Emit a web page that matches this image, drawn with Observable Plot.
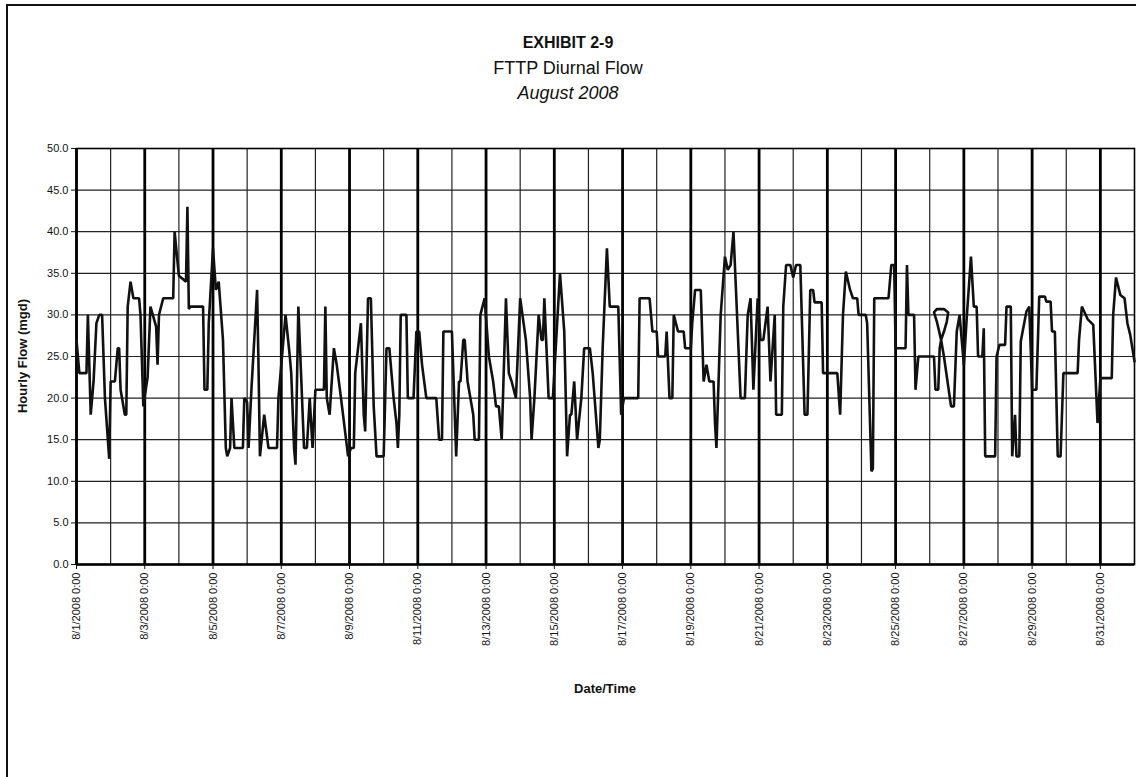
<!DOCTYPE html>
<html>
<head>
<meta charset="utf-8">
<script src="https://cdn.jsdelivr.net/npm/d3@7"></script>
<script src="https://cdn.jsdelivr.net/npm/@observablehq/plot@0.6"></script>
<style>
  html, body { margin: 0; padding: 0; background: #fff; overflow: hidden; }
  body { width: 1136px; height: 777px; position: relative; font-family: "Liberation Sans", Arial, sans-serif; color: #111; }
  #border { position: absolute; left: 6px; top: 4px; width: 1200px; height: 900px; border-left: 2px solid #111; border-top: 2px solid #111; }
  .t { position: absolute; left: 0; width: 1136px; text-align: center; line-height: 1; white-space: nowrap; }
  #t1 { top: 35px; font-size: 16px; font-weight: bold; }
  #t2 { top: 59px; font-size: 18px; }
  #t3 { top: 84px; font-size: 18px; font-style: italic; }
  #chart { position: absolute; left: 0; top: 0; }
  #ylab { position: absolute; left: 22px; top: 356px; transform: translate(-50%, -50%) rotate(-90deg); font-size: 13px; font-weight: bold; white-space: nowrap; }
  #xlab { position: absolute; left: 605px; top: 688px; transform: translate(-50%, -50%); font-size: 13px; font-weight: bold; white-space: nowrap; }
</style>
</head>
<body>
<div id="border"></div>
<div id="chart"></div>
<div class="t" id="t1">EXHIBIT 2-9</div>
<div class="t" id="t2">FTTP Diurnal Flow</div>
<div class="t" id="t3">August 2008</div>
<div id="ylab">Hourly Flow (mgd)</div>
<div id="xlab">Date/Time</div>
<script>
// Hours after 8/1/2008 0:00 and hourly flow (mgd)
const hours = [
  0,2,7,8,10,12,14,16,18,20,23,24,27,29,30,31,34,35,36,38,40,44,45,47,50,52,56,57,58,61,68,69,72,77,78,79,80,89,90,92,93,96,98,100,103,105,106,108,109,111,117,118,120,121,123,127,128,129,132,135,141,142,147,150,151,153,154,156,160,162,164,166,168,174,175,176,178,181,183,186,191,193,195,196,200,202,203,205,207,209,211,216,218,220,223,225,226,227,228,232,233,237,239,
  241,243,246,253,255,257,258,264,267,269,270,272,273,275,279,280,283,284,287,290,293,295,297,299,302,304,306,309,312,316,319,320,322,325,327,328,329,332,335,336,340,343,345,347,348,350,352,355,357,361,363,367,368,370,373,375,381,383,385,395,396,403,405,408,409,414,415,417,419,420,423,427,428,432,433,435,439,441,443,445,448,449,450,453,456,458,460,462,464,467,470,472,474,476,479,481,483,486,488,491,492,495,
  496,497,499,502,504,506,509,510,512,514,516,518,519,524,525,535,537,539,541,544,546,549,
  550,555,556,559,560,561,571,573,575,576,583,584,585,589,590,592,600,603,604,606,607,608,605,603,605,610,613,612,610,608,610,615,617,619,621,624,626,629,631,633,634,637,638,639,646,647,649,653,654,657,658,660,661,663,664,668,670,672,675,677,681,682,685,686,688,690,692,694,704,705,707,711,715,718,720,728,729,731,734,737,739,741,744
];
const flow = [
  27,23,23,30,18,22,29,30,30,20,12.7,22,22,26,26,21,18,18,31,34,32,32,30,19,22.5,31,28.6,24,30,32,32,40,34.7,34,43,30.7,31,31,21,21,29,38,33,34,27,14,13,14,20,14,14,20,19.5,14,21,33,23.8,13,18,14,14,20,30,25,23,14,12,31,14,14,20,14,21,21,31,20,18,26,24,20,13,14,14,23,29,18,16,32,32,19,13,13,26,26,20,17,14,18,30,30,20,20,28,
  28,24,20,20,15,15,28,28,13,22,22,27,27,22,18,15,15,30,32,25,22,19,19,15,32,23,22,20,32,27,20,15,20,30,27,27,32,20,20,23,35,28,13,18,18,22,15,20,26,26,23,14,15,26,38,31,31,18,20,20,32,32,28,28,25,25,28,20,20,30,28,28,26,26,29,33,33,22,24,22,22,17,14,30,37,35.4,36,40,32,20,20,30,32,21,32,27,27,31,22,30,18,18,
  18,31,36,36,34.5,36,36,30,18,18,33,33,31.5,31.5,23,23,18,30,35.2,33,32,32,
  30,30,29,11.2,11.5,32,32,36,36,26,26,36,30,30,21,25,25,25,21,21,26,27,29.2,30.3,30.7,30.7,30.3,29.2,28,27,25,19,19,28,30,24,29.6,37,31,31,25,25,28.4,13,13,25,26.4,26.4,31,31,13,18,13,13,26.8,30.4,31,21,21,32.2,32.2,31.6,31.6,28,28,13,13,23,23,27,31,29.5,28.8,17,22.4,22.4,30,34.5,32.4,32,29,27.6,24.4
];
const yTicks = [0, 5, 10, 15, 20, 25, 30, 35, 40, 45, 50];
const tickDays = [1, 3, 5, 7, 9, 11, 13, 15, 17, 19, 21, 23, 25, 27, 29, 31];

const start = new Date(Date.UTC(2008, 7, 1));
const end = new Date(Date.UTC(2008, 8, 1));
const data = hours.map((h, i) => ({ t: new Date(start.getTime() + h * 3600e3), v: flow[i] }));
const tickDates = tickDays.map(d => new Date(Date.UTC(2008, 7, d)));
const dayLines = d3.utcDay.range(start, end);

const chart = Plot.plot({
  width: 1136,
  height: 777,
  marginLeft: 76,
  marginRight: 2,
  marginTop: 148,
  marginBottom: 213,
  style: { fontFamily: "'Liberation Sans', Arial, sans-serif", fontSize: "11px", color: "#111", background: "transparent" },
  x: { type: "utc", domain: [start, end] },
  y: { domain: [0, 50] },
  marks: [
    Plot.ruleY(yTicks, { stroke: "#222", strokeWidth: 1.2 }),
    Plot.ruleX(dayLines, { stroke: "#222", strokeWidth: 1.2 }),
    Plot.ruleX(tickDates, { stroke: "#000", strokeWidth: 2.8 }),
    Plot.frame({ stroke: "#000", strokeWidth: 1.6 }),
    Plot.ruleY([0], { stroke: "#000", strokeWidth: 2.5 }),
    Plot.line(data, { x: "t", y: "v", stroke: "#111", strokeWidth: 2.6, strokeLinejoin: "miter" }),
    Plot.axisY({ ticks: yTicks, tickFormat: d3.format(".1f"), tickSize: 5, tickPadding: 3, label: null, fontSize: 11 }),
    Plot.axisX({ ticks: tickDates, tickFormat: d => `${d.getUTCMonth() + 1}/${d.getUTCDate()}/2008 0:00`, tickRotate: -90, tickSize: 5, tickPadding: 3, label: null, fontSize: 11 })
  ]
});
document.getElementById("chart").appendChild(chart);
</script>
</body>
</html>
